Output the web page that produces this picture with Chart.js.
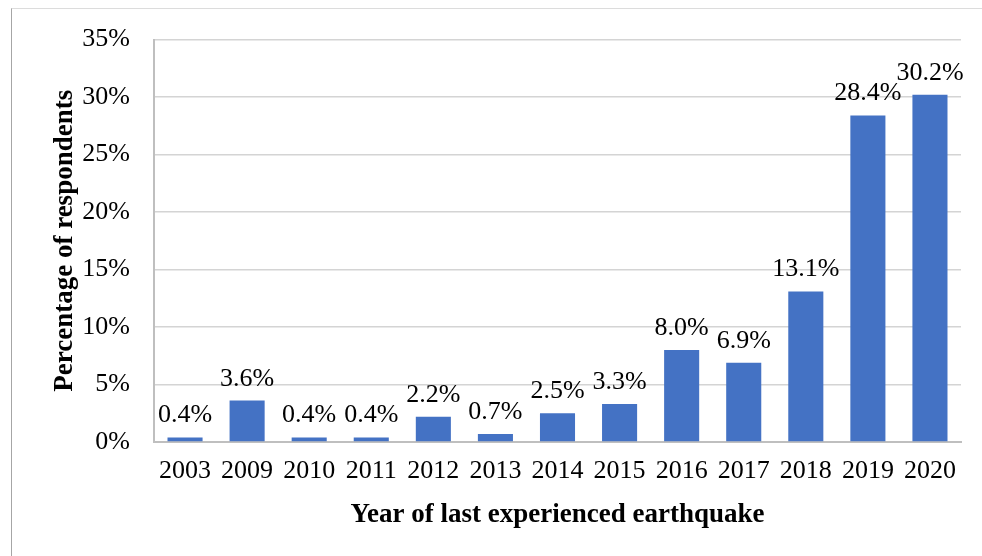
<!DOCTYPE html>
<html>
<head>
<meta charset="utf-8">
<script src="https://cdn.jsdelivr.net/npm/chart.js@4.4.0/dist/chart.umd.min.js"></script>
<style>
  html, body { margin: 0; padding: 0; background: #fff; }
  #wrap { position: relative; width: 982px; height: 556px; }
  #frame {
    position: absolute; left: 11px; top: 8px; right: 0; bottom: 0;
    border-left: 1px solid #a6a6a6; border-top: 1px solid #dcdcdc;
    pointer-events: none;
  }
</style>
</head>
<body>
<div id="wrap">
  <canvas id="chart" width="982" height="556"></canvas>
  <div id="frame"></div>
</div>
<script>
const years = ["2003", "2009", "2010", "2011", "2012", "2013", "2014", "2015", "2016", "2017", "2018", "2019", "2020"]
const shares = [0.4, 3.6, 0.4, 0.4, 2.2, 0.7, 2.5, 3.3, 8.0, 6.9, 13.1, 28.4, 30.2]
const yTicks = [0, 5, 10, 15, 20, 25, 30, 35]

const serif = "'Liberation Serif', 'Times New Roman', serif"
const blue = "#4472C4"

// value labels above each bar
const barLabels = {
	id: "barLabels",
	afterDatasetsDraw(chart) {
		const c = chart.ctx
		const meta = chart.getDatasetMeta(0)
		c.save()
		c.font = "26px " + serif
		c.fillStyle = "#000"
		c.textAlign = "center"
		c.textBaseline = "alphabetic"
		meta.data.forEach((bar, i) => {
			c.fillText(shares[i].toFixed(1) + "%", bar.x, bar.y - 15)
		})
		c.restore()
	},
}

new Chart(document.getElementById("chart"), {
	type: "bar",
	data: {
		labels: years,
		datasets: [
			{
				data: shares,
				backgroundColor: blue,
				borderWidth: 0,
				barPercentage: 0.565,
				categoryPercentage: 1,
			},
		],
	},
	options: {
		responsive: false,
		animation: false,
		layout: { padding: { top: 36, right: 21, bottom: 0, left: 0 } },
		plugins: {
			legend: { display: false },
			tooltip: { enabled: false },
		},
		scales: {
			x: {
				grid: { display: false, drawTicks: false },
				border: { color: "#bfbfbf", width: 2 },
				ticks: { color: "#000", font: { family: serif, size: 26 }, padding: 14, maxRotation: 0 },
				title: {
					display: true,
					text: "Year of last experienced earthquake",
					color: "#000",
					font: { family: serif, size: 27, weight: "bold" },
					padding: { top: 0, bottom: 25 },
				},
				afterFit(scale) { scale.height = 114 },
			},
			y: {
				min: 0,
				max: 35,
				afterBuildTicks(scale) { scale.ticks = yTicks.map(v => ({ value: v })) },
				grid: { color: "#d4d4d4", lineWidth: 1.5, drawTicks: false },
				border: { color: "#bfbfbf", width: 2 },
				ticks: {
					color: "#000",
					font: { family: serif, size: 26 },
					padding: 24,
					callback: v => v + "%",
				},
				title: {
					display: true,
					text: "Percentage of respondents",
					color: "#000",
					font: { family: serif, size: 27, weight: "bold" },
					padding: { top: 49, bottom: 0 },
				},
				afterFit(scale) { scale.width = 154 },
			},
		},
	},
	plugins: [barLabels],
})
</script>
</body>
</html>
